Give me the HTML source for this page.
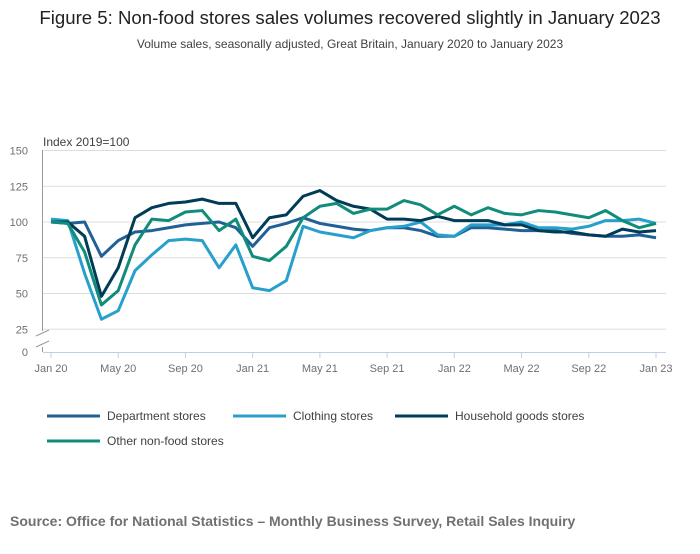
<!DOCTYPE html>
<html><head><meta charset="utf-8"><style>
body{margin:0;width:700px;height:549px;background:#fff;font-family:"Liberation Sans",sans-serif;overflow:hidden}
svg text{font-family:"Liberation Sans",sans-serif}
</style></head><body>
<svg id="c" width="700" height="549">
<text x="350" y="24" text-anchor="middle" font-size="18.6" fill="#222">Figure 5: Non-food stores sales volumes recovered slightly in January 2023</text>
<text x="350" y="48" text-anchor="middle" font-size="12" fill="#414042">Volume sales, seasonally adjusted, Great Britain, January 2020 to January 2023</text>
<text x="43" y="146" font-size="12" fill="#414042">Index 2019=100</text>
<g id="grid"></g><g id="lines"></g><g id="legend"></g>
<text x="10" y="526" font-size="14" font-weight="bold" fill="#707071">Source: Office for National Statistics – Monthly Business Survey, Retail Sales Inquiry</text>
</svg>
<script>
const yTicks=[25,50,75,100,125,150];
const xTickLabels=["Jan 20","May 20","Sep 20","Jan 21","May 21","Sep 21","Jan 22","May 22","Sep 22","Jan 23"];
const seriesNames=["Department stores","Clothing stores","Household goods stores","Other non-food stores"];
const dept=[100,99,100,76,87,93,94,96,98,99,100,96,83,96,99,103,99,97,95,94,96,96,94,90,90,96,96,95,94,94,94,92,91,90,90,91,89];
const cloth=[102,101,64,32,38,66,77,87,88,87,68,84,54,52,59,97,93,91,89,94,96,97,100,91,90,98,98,98,100,96,96,95,97,101,101,102,99];
const house=[100,100,90,48,68,103,110,113,114,116,113,113,89,103,105,118,122,115,111,109,102,102,101,104,101,101,101,98,98,94,93,93,91,90,95,93,94];
const other=[100,99,79,42,52,84,102,101,107,108,94,102,76,73,83,103,111,113,106,109,109,115,112,105,111,105,110,106,105,108,107,105,103,108,101,96,99];
const NS="http://www.w3.org/2000/svg";
const x0=51,x1=656,n=36;
const xS=i=>x0+(x1-x0)*i/n;
const yS=v=>222-(v-100)*1.43;
function mk(t,a,p){const e=document.createElementNS(NS,t);for(const k in a)e.setAttribute(k,a[k]);p.appendChild(e);return e}
const g=document.getElementById('grid');
yTicks.forEach(v=>{
 const l=mk('line',{x1:43,x2:666,y1:yS(v),y2:yS(v),stroke:'#ddd','stroke-width':1},g);
 
 
 const t=mk('text',{x:28,y:yS(v)+4,'text-anchor':'end','font-size':11,fill:'#707071'},g);t.textContent=v;
 
 
});
const z=mk('text',{x:28,y:356,'text-anchor':'end','font-size':11,fill:'#707071'},g);z.textContent='0';


mk('line',{x1:42.5,x2:42.5,y1:150,y2:331,stroke:'#999'},g);
mk('line',{x1:42.5,x2:42.5,y1:347,y2:352,stroke:'#999'},g);
mk('line',{x1:36,x2:49,y1:336,y2:330,stroke:'#999'},g);
mk('line',{x1:36,x2:49,y1:347,y2:341,stroke:'#999'},g);
mk('line',{x1:43,x2:666,y1:352.5,y2:352.5,stroke:'#bfd0e6'},g);
xTickLabels.forEach((s,k)=>{
 const x=xS(k*4);
 mk('line',{x1:x,x2:x,y1:352,y2:358,stroke:'#bfd0e6'},g);
 const t=mk('text',{x:x,y:372,'text-anchor':'middle','font-size':11,fill:'#707071'},g);t.textContent=s;
 
 
});
const cols=["#206095","#27a0cc","#003c57","#118c7b"];
const data=[dept,cloth,house,other];
const L=document.getElementById('lines');
data.forEach((d,s)=>{
 const p=mk('polyline',{points:d.map((v,i)=>xS(i)+','+yS(v)).join(' '),fill:'none',stroke:cols[s],'stroke-width':3,'stroke-linejoin':'round'},L);
 
 
});
const lg=document.getElementById('legend');
const pos=[[47,416],[233,416],[395,416],[47,441]];
seriesNames.forEach((s,i)=>{
 const [x,y]=pos[i];
 const e=mk('g',{},lg);
 
 
 mk('line',{x1:x,x2:x+53,y1:y,y2:y,stroke:cols[i],'stroke-width':3},e);
 const t=mk('text',{x:x+60,y:y+4,'font-size':12,fill:'#414042'},e);t.textContent=s;
});
</script>
</body></html>
